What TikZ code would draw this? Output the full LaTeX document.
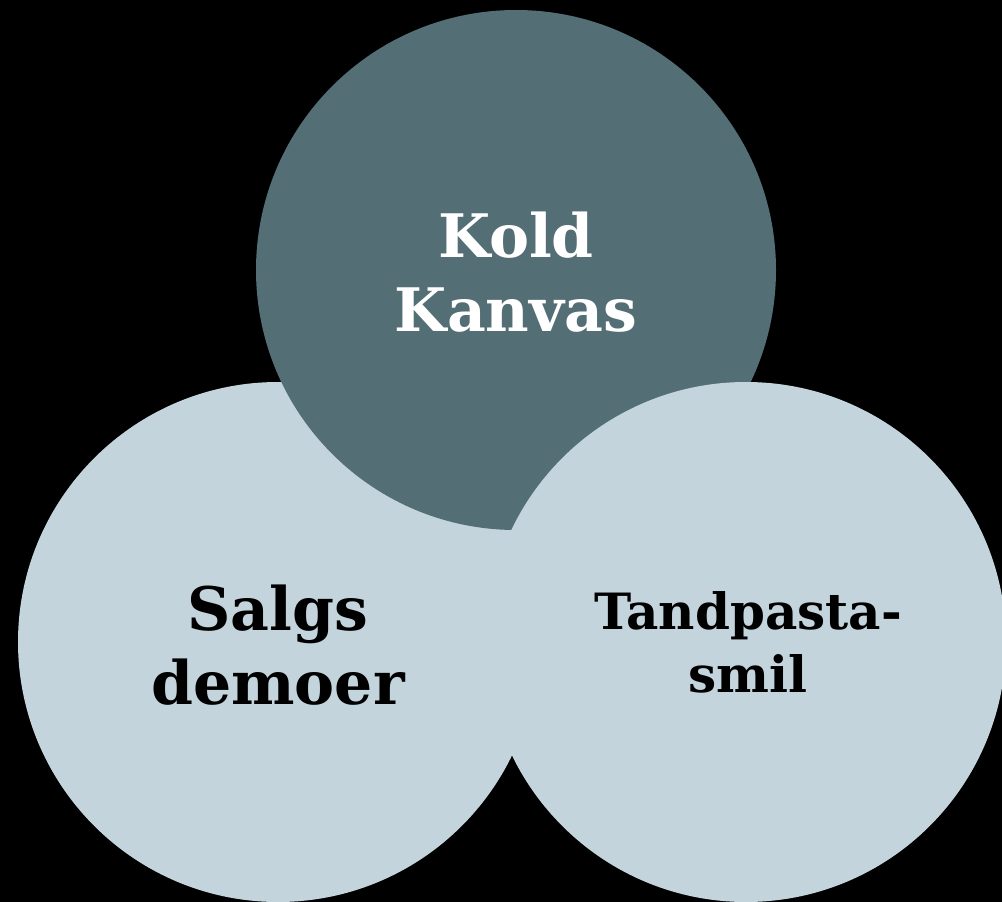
\documentclass[tikz,border=0pt]{standalone}
\usepackage{fontspec}
\setmainfont{DejaVu Serif}
\definecolor{darkc}{HTML}{546E76}
\definecolor{lightc}{HTML}{C3D4DC}
\tikzset{
  circ/.style={circle, minimum size=520pt, inner sep=0pt, outer sep=0pt},
  lbl/.style={align=center, font=\bfseries\fontsize{60}{74}\selectfont},
}
\begin{document}
\begin{tikzpicture}[x=1pt,y=-1pt]
\useasboundingbox (0,0) rectangle (1002,902);
\clip (0,0) rectangle (1002,902);
\fill[black] (0,0) rectangle (1002,902);
\node[circ, fill=lightc] (left) at (278,642) {};
\node[circ, fill=darkc] (top) at (516,270) {};
\node[circ, fill=lightc] (right) at (746,642) {};
\node[lbl, text=white] (t1) at (516,272) {Kold\\Kanvas};
\node[lbl, text=black] (t2) at (278,645) {Salgs\\demoer};
\node[lbl, text=black, font=\bfseries\fontsize{50}{63}\selectfont] (t3) at (748,642) {Tandpasta-\\smil};
\end{tikzpicture}
\end{document}
